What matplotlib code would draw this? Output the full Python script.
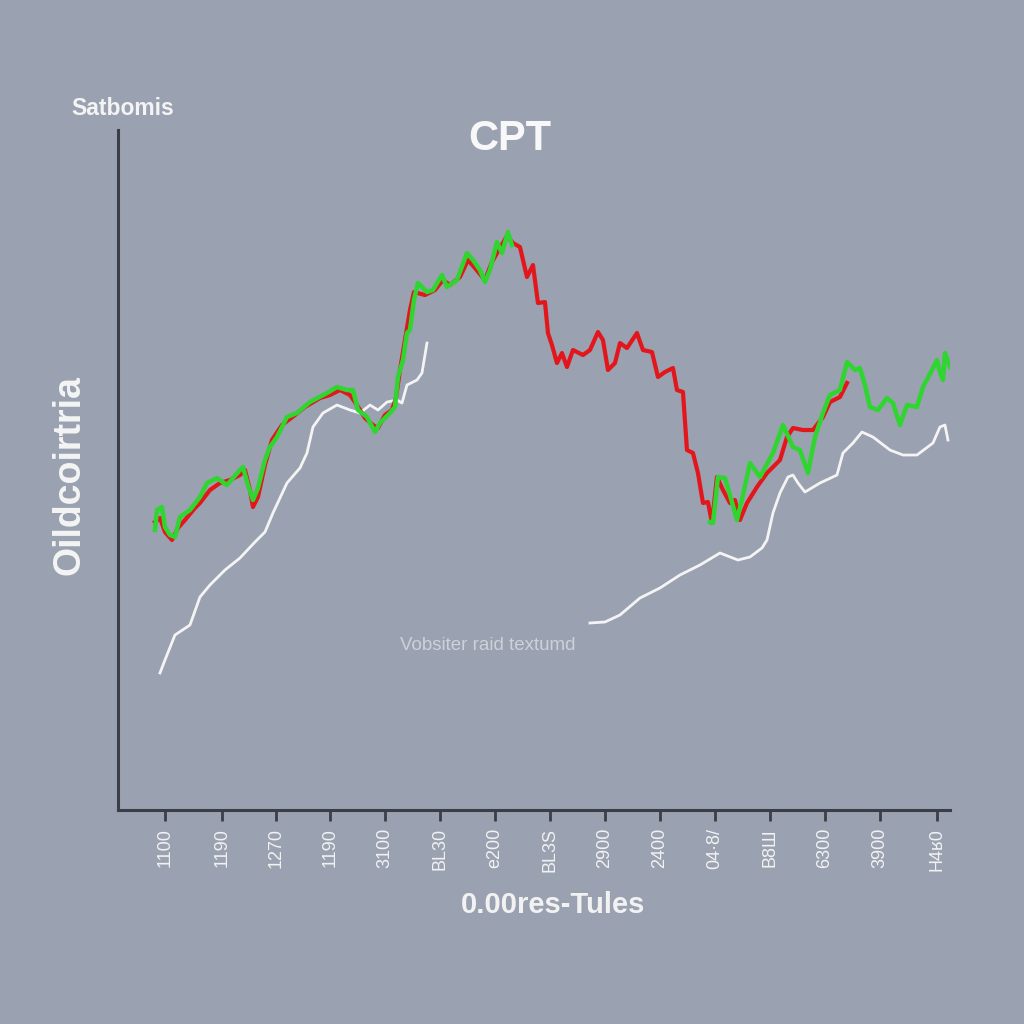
import numpy as np
import matplotlib
matplotlib.use("Agg")
import matplotlib.pyplot as plt

plt.rcParams['font.family'] = ['Liberation Sans', 'DejaVu Sans']

# tick labels along the time axis
tick_labels = ['1100', '1190', '1270', '1190', '3100', 'BL30', 'e200', 'BL3S',
               '2900', '2400', '04·8/', 'B8Ш', '6300', '3900', 'H4ʁ0']
tick_pos = [0, 57, 111, 165, 220, 275, 330, 385, 440, 495, 550, 605, 660, 715, 772]

# red series
red_x = [-10, -5, 0, 7, 13, 20, 30, 35, 45, 55, 65, 75, 80, 85, 88, 93, 100, 107, 117, 130,
         140, 155, 165, 175, 185, 192, 200, 208, 213, 220, 227, 231, 235, 240, 245, 249, 260,
         270, 278, 285, 295, 303, 310, 320, 327, 335, 342, 348, 355, 362, 368, 373, 380, 383,
         387, 392, 397, 402, 408, 418, 425, 433, 438, 443, 450, 455, 462, 472, 478, 487, 493,
         500, 508, 512, 518, 522, 528, 533, 538, 543, 547, 552, 558, 565, 570, 575, 582, 592,
         602, 615, 622, 628, 638, 648, 658, 665, 675, 682]
red_y = [288, 292, 278, 270, 282, 290, 302, 307, 320, 327, 330, 335, 340, 320, 303, 313, 345,
         370, 385, 395, 403, 412, 415, 420, 415, 405, 392, 385, 382, 395, 400, 412, 440, 470,
         500, 518, 515, 520, 530, 525, 533, 550, 542, 530, 548, 562, 574, 567, 563, 533, 545,
         507, 508, 477, 465, 447, 457, 443, 460, 455, 460, 478, 470, 440, 447, 467, 462, 477,
         460, 458, 433, 438, 442, 420, 418, 360, 357, 337, 307, 308, 287, 333, 320, 307, 310,
         290, 307, 323, 337, 350, 373, 382, 380, 380, 393, 408, 413, 427]

# green series, first run
green1_x = [-10, -8, -3, 0, 5, 10, 15, 25, 35, 42, 52, 62, 75, 78, 83, 88, 93, 100, 105,
            112, 122, 132, 145, 162, 172, 182, 188, 193, 202, 210, 215, 225, 230, 233, 238,
            242, 245, 249, 253, 262, 268, 277, 282, 292, 302, 308, 315, 320, 325, 332, 337,
            343, 347]
green1_y = [280, 300, 303, 283, 275, 273, 293, 300, 313, 327, 332, 325, 340, 343, 325, 310,
            322, 350, 363, 373, 393, 397, 408, 417, 423, 420, 420, 400, 393, 378, 387, 397,
            403, 433, 450, 477, 480, 510, 527, 518, 520, 535, 523, 530, 557, 550, 540, 528,
            540, 568, 557, 578, 565]

# green series, second run
green2_x = [545, 548, 553, 560, 565, 572, 578, 585, 595, 608, 618, 628, 635, 643, 650, 658,
            665, 675, 682, 685, 690, 695, 700, 705, 713, 722, 728, 735, 742, 752, 758, 767,
            772, 775, 778, 780, 785]
green2_y = [288, 287, 333, 332, 315, 290, 315, 347, 333, 357, 385, 363, 360, 337, 373, 397,
            415, 420, 448, 445, 440, 442, 425, 403, 400, 412, 407, 385, 405, 403, 423, 440,
            450, 438, 430, 457, 443]

# white trend lines
white1_x = [-5, 0, 10, 25, 35, 45, 60, 75, 90, 100, 108, 122, 135, 142, 148, 158, 172, 185,
            195, 205, 213, 222, 232, 237, 242, 252, 257, 262]
white1_y = [137, 150, 175, 185, 213, 225, 240, 252, 268, 278, 297, 327, 342, 357, 383, 397,
            405, 400, 397, 405, 400, 408, 410, 407, 425, 430, 437, 467]
white2_x = [425, 440, 455, 475, 495, 515, 535, 555, 573, 585, 597, 602, 608, 615, 623, 628,
            633, 640, 655, 672, 678, 688, 697, 708, 725, 738, 752, 768, 775, 780, 783]
white2_y = [187, 188, 195, 212, 222, 235, 245, 257, 250, 253, 262, 270, 297, 317, 333, 335,
            327, 318, 327, 335, 357, 367, 378, 373, 360, 355, 355, 367, 383, 385, 370]

bg = '#9aa1b0'
fig = plt.figure(figsize=(10.24, 10.24), dpi=100, facecolor=bg)
ax = fig.add_axes([0.1152, 0.209, 0.8125, 0.664])
ax.set_facecolor(bg)

ax.plot(white1_x, white1_y, color='#f4f4f4', lw=2)
ax.plot(white2_x, white2_y, color='#f4f4f4', lw=2)
ax.plot(red_x, red_y, color='#e3161b', lw=3)
ax.plot(green1_x, green1_y, color='#2fd62f', lw=3.2)
ax.plot(green2_x, green2_y, color='#2fd62f', lw=3.2)

ax.set_xlim(-47, 785)
ax.set_ylim(0, 680)

for s in ['top', 'right']:
    ax.spines[s].set_visible(False)
for s in ['left', 'bottom']:
    ax.spines[s].set_color('#3b3e46')
    ax.spines[s].set_linewidth(2.2)

ax.set_yticks([])
ax.set_xticks(tick_pos)
ax.set_xticklabels(tick_labels, rotation=90, fontsize=13, color='#f2f2f2')
ax.tick_params(axis='x', length=8, width=2, color='#3b3e46', pad=5)

fig.text(0.498, 0.864, 'CPT', ha='center', va='center', fontsize=30,
         fontweight='bold', color='#f8f8f8')
fig.text(0.07, 0.894, 'Satbomis', ha='left', va='center', fontsize=16.5,
         fontweight='bold', color='#f4f4f4')
fig.text(0.068, 0.536, 'Oildcoirtria', ha='center', va='center', rotation=90,
         fontsize=27, fontweight='bold', color='#f4f4f4')
fig.text(0.54, 0.116, '0.00res-Tules', ha='center', va='center', fontsize=21,
         fontweight='bold', color='#f2f2f2')
ax.text(323, 164, 'Vobsiter raid textumd', ha='center', va='center', fontsize=13.5,
        color='#cdd1da')

fig.savefig('out.png', dpi=100, facecolor=bg)
